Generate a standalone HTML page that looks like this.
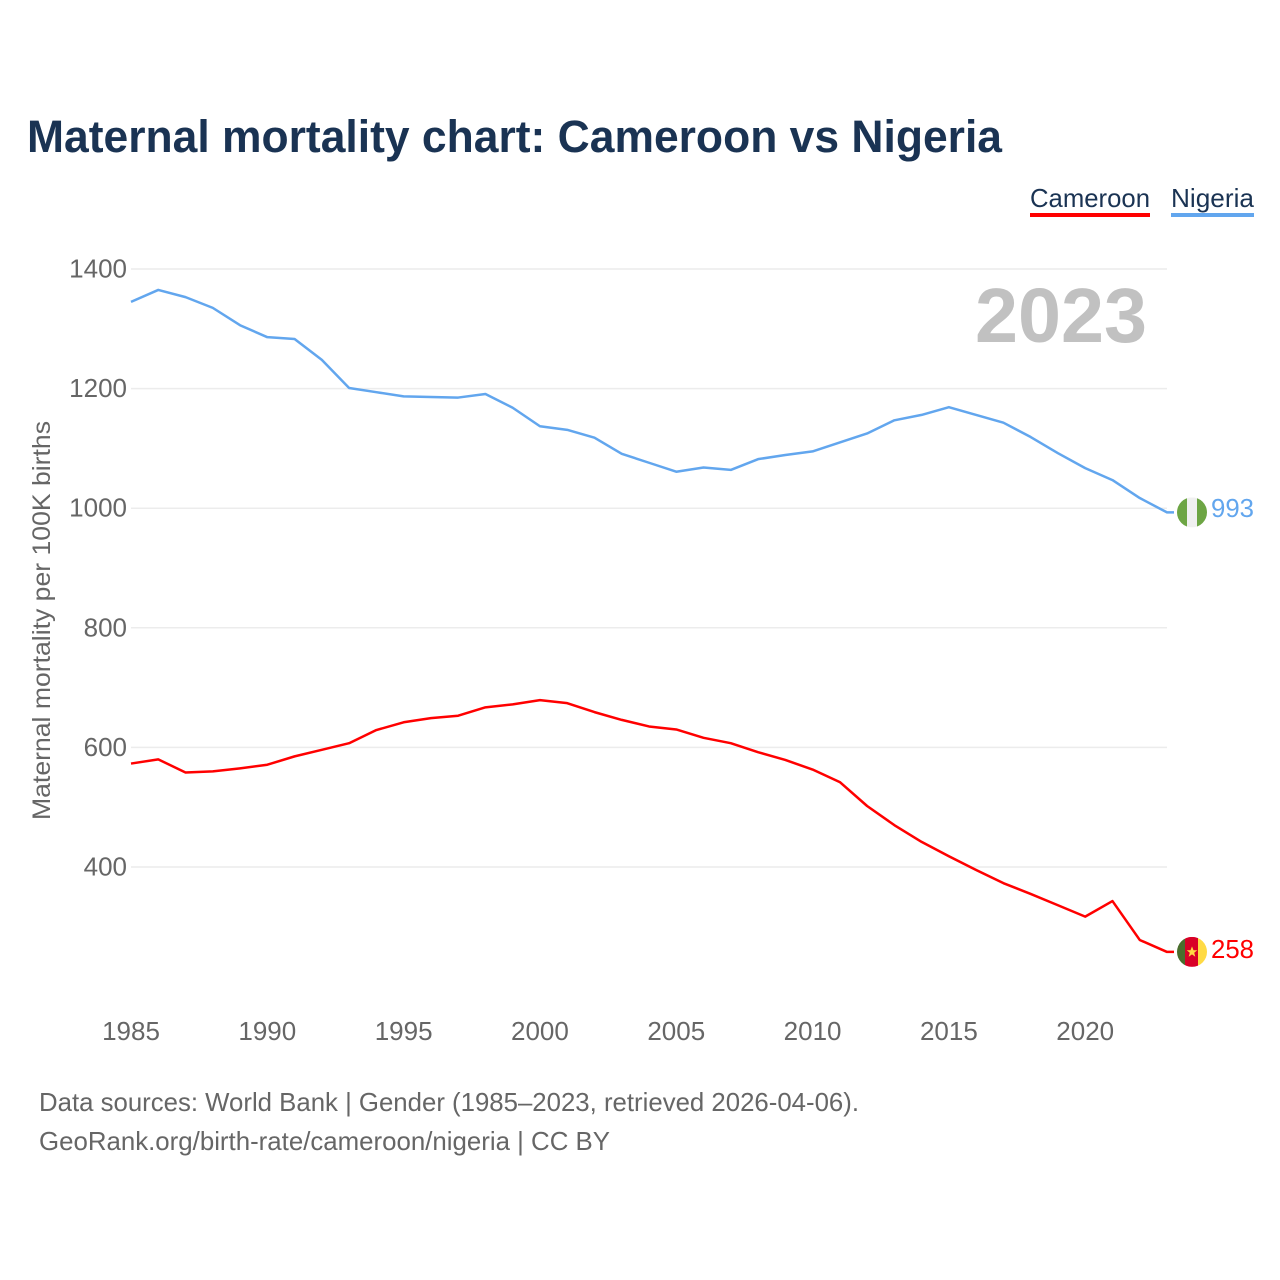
<!DOCTYPE html>
<html lang="en">
<head>
<meta charset="utf-8">
<title>Maternal mortality chart: Cameroon vs Nigeria</title>
<style>
  html, body { margin: 0; padding: 0; background: #fff; }
  svg { display: block; font-family: "Liberation Sans", sans-serif; }
</style>
</head>
<body>
<svg id="chart" xmlns="http://www.w3.org/2000/svg" width="1280" height="1280" viewBox="0 0 1280 1280">
  <rect width="1280" height="1280" fill="#fff"/>
  <text x="27" y="152" font-size="45" font-weight="700" fill="#1a3353" textLength="975" lengthAdjust="spacingAndGlyphs">Maternal mortality chart: Cameroon vs Nigeria</text>

  <g>
    <text x="1030" y="207" font-size="26" fill="#1a3353" textLength="120" lengthAdjust="spacingAndGlyphs">Cameroon</text>
    <rect x="1030" y="213" width="120" height="4" fill="#ff0000"/>
  </g>
  <g>
    <text x="1171" y="207" font-size="26" fill="#1a3353" textLength="83" lengthAdjust="spacingAndGlyphs">Nigeria</text>
    <rect x="1171" y="213" width="83" height="4" fill="#62a6ee"/>
  </g>

  <g id="grid"></g>
  <g id="y-ticks"></g>
  <g id="x-ticks"></g>

  <text transform="translate(50,820) rotate(-90)" font-size="25" fill="#666" textLength="399" lengthAdjust="spacingAndGlyphs">Maternal mortality per 100K births</text>

  <text x="1147" y="342" text-anchor="end" font-size="77" font-weight="700" fill="#c1c1c1" textLength="172" lengthAdjust="spacingAndGlyphs">2023</text>

  <path id="line-nigeria" fill="none" stroke="#62a6ee" stroke-width="2.5" stroke-linejoin="round"/>
  <path id="line-cameroon" fill="none" stroke="#ff0000" stroke-width="2.5" stroke-linejoin="round"/>

  <defs>
    <clipPath id="clip-flag"><circle cx="0" cy="0" r="15"/></clipPath>
  </defs>

  <g id="flag-nigeria" clip-path="url(#clip-flag)">
    <rect x="-15" y="-15" width="10" height="30" fill="#6da544"/>
    <rect x="-5" y="-15" width="10" height="30" fill="#f0f0f0"/>
    <rect x="5" y="-15" width="10" height="30" fill="#6da544"/>
  </g>
  <g id="flag-cameroon" clip-path="url(#clip-flag)">
    <rect x="-15" y="-15" width="8" height="30" fill="#496e2d"/>
    <rect x="-7" y="-15" width="13" height="30" fill="#d80027"/>
    <rect x="6" y="-15" width="9" height="30" fill="#ffda44"/>
    <polygon points="0,-5.5 1.5,-1.7 5.3,-1.7 2.2,0.8 3.3,4.8 0,2.5 -3.3,4.8 -2.2,0.8 -5.3,-1.7 -1.5,-1.7" fill="#ffda44"/>
  </g>

  <text id="value-nigeria" x="1211" font-size="26" fill="#62a6ee" textLength="43" lengthAdjust="spacingAndGlyphs"></text>
  <text id="value-cameroon" x="1211" font-size="26" fill="#ff0000" textLength="43" lengthAdjust="spacingAndGlyphs"></text>

  <text x="39" y="1111" font-size="26" fill="#666" textLength="820" lengthAdjust="spacingAndGlyphs">Data sources: World Bank | Gender (1985–2023, retrieved 2026-04-06).</text>
  <text x="39" y="1150" font-size="26" fill="#666" textLength="571" lengthAdjust="spacingAndGlyphs">GeoRank.org/birth-rate/cameroon/nigeria | CC BY</text>
</svg>

<script>
const years = [1985,1986,1987,1988,1989,1990,1991,1992,1993,1994,1995,1996,1997,1998,1999,2000,2001,2002,2003,2004,2005,2006,2007,2008,2009,2010,2011,2012,2013,2014,2015,2016,2017,2018,2019,2020,2021,2022,2023];
const nigeria = [1345,1365,1353,1335,1306,1286,1283,1248,1201,1194,1187,1186,1185,1191,1168,1137,1131,1118,1091,1076,1061,1068,1064,1082,1089,1095,1110,1125,1147,1156,1169,1156,1143,1119,1092,1067,1047,1017,993];
const cameroon = [573,580,558,560,565,571,585,596,607,629,642,649,653,667,672,679,674,659,646,635,630,616,607,592,579,563,542,502,470,442,418,395,373,355,336,317,343,278,258];
const yTickValues = [400,600,800,1000,1200,1400];
const xTickValues = [1985,1990,1995,2000,2005,2010,2015,2020];

const SVG_NS = 'http://www.w3.org/2000/svg';
function xScale(year) { return 131 + (year - 1985) * (1167 - 131) / 38; }
function yScale(value) { return 269 + (1400 - value) * 0.598; }
function linePath(values) {
  return values.map(function (v, i) {
    return (i ? 'L' : 'M') + xScale(years[i]).toFixed(2) + ' ' + yScale(v).toFixed(2);
  }).join('') + 'h7';
}

const gridGroup = document.getElementById('grid');
const yTickGroup = document.getElementById('y-ticks');
yTickValues.forEach(function (v) {
  const line = document.createElementNS(SVG_NS, 'line');
  
  
  line.setAttribute('x1', xScale(1985));
  line.setAttribute('x2', xScale(2023));
  line.setAttribute('y1', yScale(v));
  line.setAttribute('y2', yScale(v));
  line.setAttribute('stroke', '#ececec');
  line.setAttribute('stroke-width', '1.5');
  gridGroup.appendChild(line);

  const label = document.createElementNS(SVG_NS, 'text');
  
  
  label.setAttribute('x', '127');
  label.setAttribute('y', yScale(v) + 8.5);
  label.setAttribute('text-anchor', 'end');
  label.setAttribute('font-size', '26');
  label.setAttribute('fill', '#666');
  label.textContent = v;
  yTickGroup.appendChild(label);
});

const xTickGroup = document.getElementById('x-ticks');
xTickValues.forEach(function (year) {
  const label = document.createElementNS(SVG_NS, 'text');
  
  
  label.setAttribute('x', xScale(year));
  label.setAttribute('y', '1040');
  label.setAttribute('text-anchor', 'middle');
  label.setAttribute('font-size', '26');
  label.setAttribute('fill', '#666');
  label.textContent = year;
  xTickGroup.appendChild(label);
});

document.getElementById('line-nigeria').setAttribute('d', linePath(nigeria));
document.getElementById('line-cameroon').setAttribute('d', linePath(cameroon));

const lastNigeria = nigeria[nigeria.length - 1];
const lastCameroon = cameroon[cameroon.length - 1];
document.getElementById('flag-nigeria').setAttribute('transform', 'translate(1192,' + yScale(lastNigeria) + ')');
document.getElementById('flag-cameroon').setAttribute('transform', 'translate(1192,' + yScale(lastCameroon) + ')');
const valueNigeria = document.getElementById('value-nigeria');
valueNigeria.setAttribute('y', yScale(lastNigeria) + 4.5);
valueNigeria.textContent = lastNigeria;
const valueCameroon = document.getElementById('value-cameroon');
valueCameroon.setAttribute('y', yScale(lastCameroon) + 6);
valueCameroon.textContent = lastCameroon;
</script>
</body>
</html>
